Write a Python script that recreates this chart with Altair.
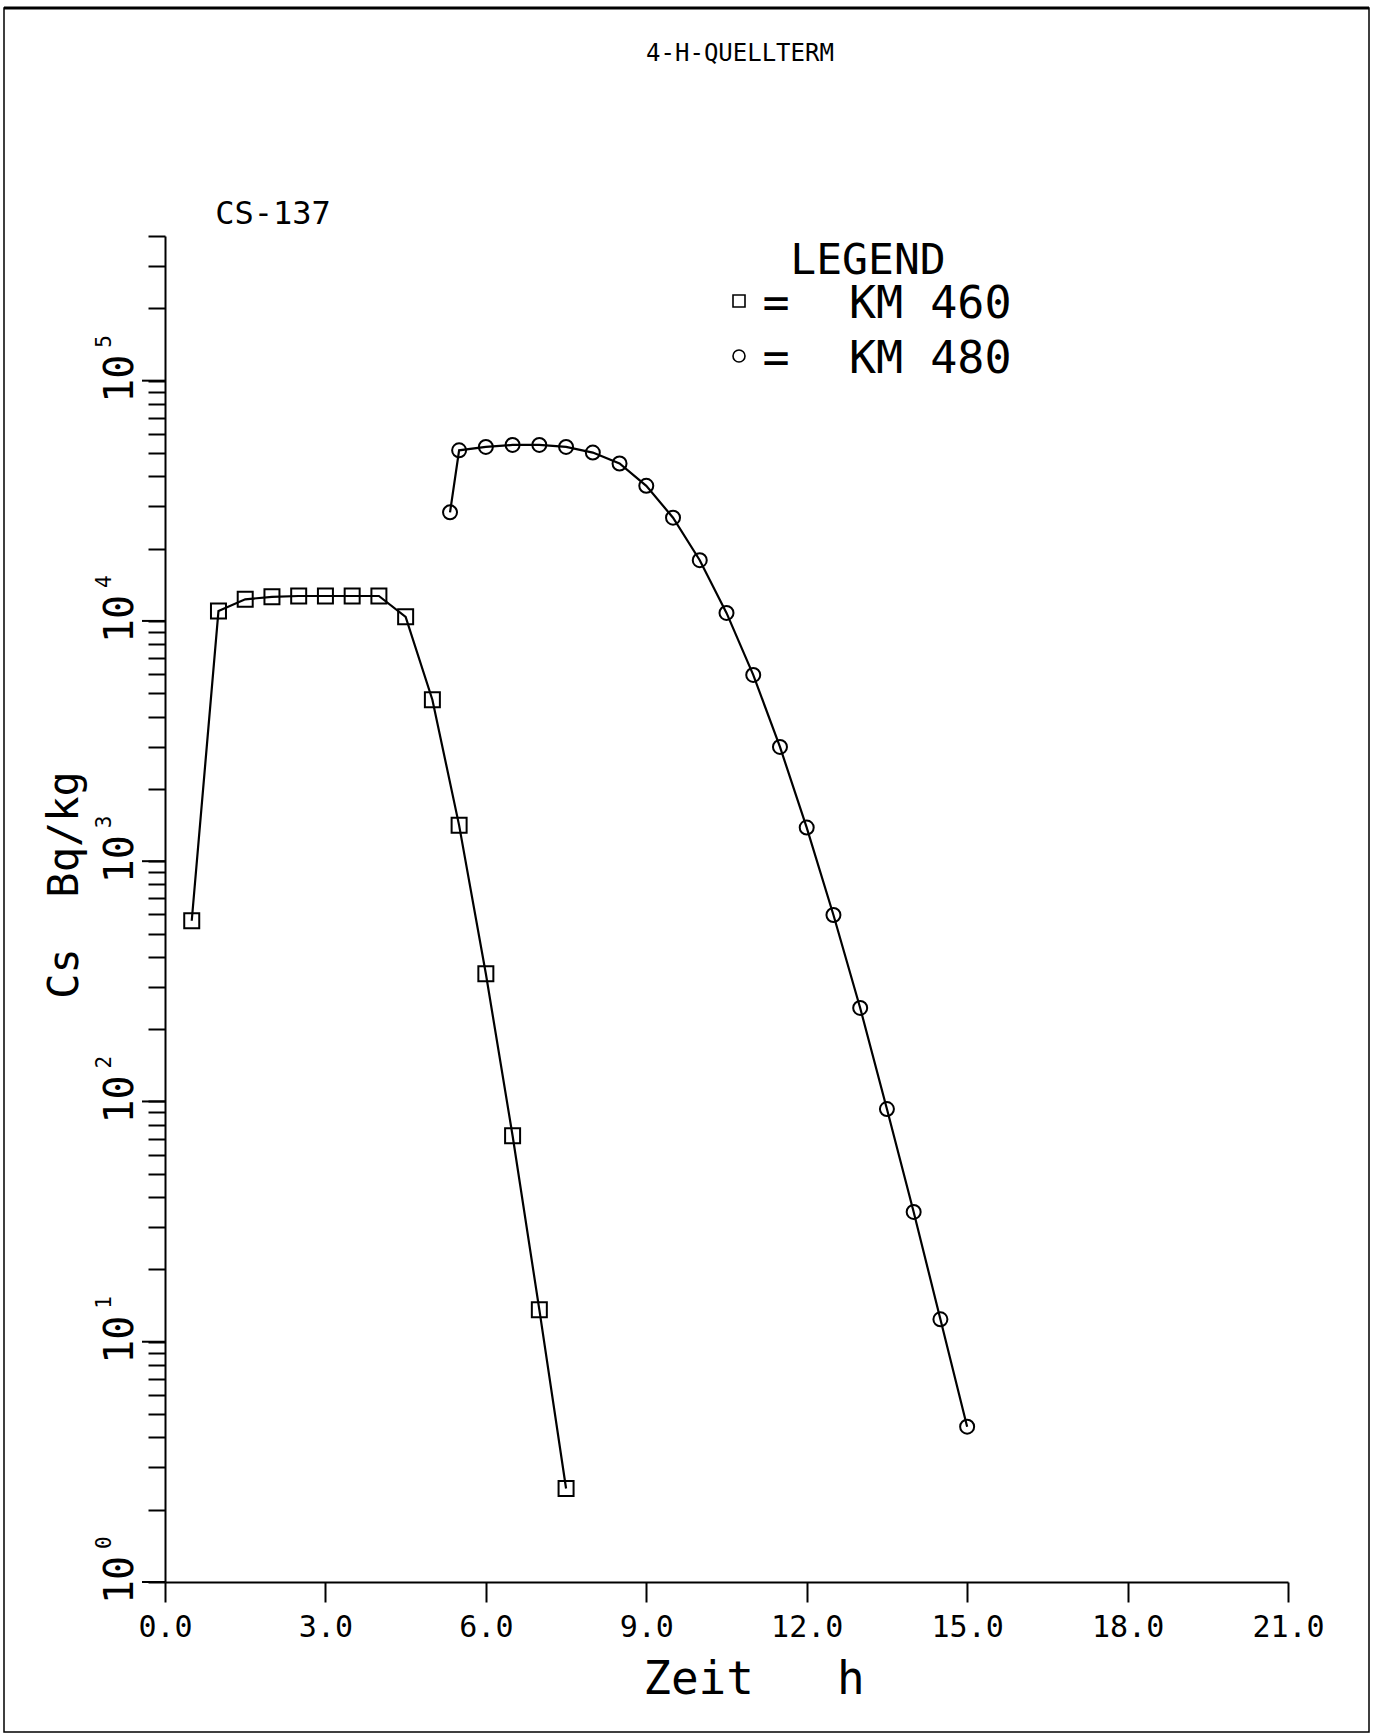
import altair as alt
import pandas as pd

# Cs-137 concentration (Bq/kg) over time (h) at two river stations
t_km460 = [0.5, 1.0, 1.5, 2.0, 2.5, 3.0, 3.5, 4.0, 4.5, 5.0, 5.5, 6.0, 6.5, 7.0, 7.5]
c_km460 = [565, 11000, 12300, 12600, 12700, 12700, 12700, 12700, 10400, 4700, 1410, 340, 72, 13.6, 2.45]

t_km480 = [5.33, 5.5, 6.0, 6.5, 7.0, 7.5, 8.0, 8.5, 9.0, 9.5, 10.0, 10.5, 11.0,
           11.5, 12.0, 12.5, 13.0, 13.5, 14.0, 14.5, 15.0]
c_km480 = [28300, 51300, 53000, 54000, 54000, 53000, 50200, 45200, 36500, 26900, 17900,
           10800, 5960, 2990, 1380, 597, 245, 93, 34.7, 12.4, 4.43]

x_ticks = [0, 3, 6, 9, 12, 15, 18, 21]
decade_exponents = [0, 1, 2, 3, 4, 5]
minor_ticks = [m * 10 ** e for e in range(0, 5) for m in range(2, 10)] + [2e5, 3e5, 4e5]

FONT = "DejaVu Sans Mono"
W, H = 1123, 1346
INK = "black"
NB = "\u00a0"  # keeps runs of spaces in SVG text

km460 = pd.DataFrame({"t": t_km460, "c": c_km460})
km480 = pd.DataFrame({"t": t_km480, "c": c_km480})
majors = pd.DataFrame({"v": [10.0 ** e for e in decade_exponents],
                       "exp": [str(e) for e in decade_exponents]})
one = pd.DataFrame({"k": [0]})

x_scale = alt.Scale(domain=[0, 21], nice=False, zero=False)
y_scale = alt.Scale(type="log", domain=[1, 4e5], nice=False)

x_axis = alt.Axis(values=x_ticks, format=".1f", tickSize=20, tickWidth=2, tickColor=INK,
                  domainColor=INK, domainWidth=2, labelFont=FONT, labelFontSize=30,
                  labelColor=INK, labelPadding=10, labelFlush=False, title=None, grid=False)
y_axis = alt.Axis(values=[10.0 ** e for e in decade_exponents] + minor_ticks, labels=False,
                  tickSize=17, tickWidth=2, tickColor=INK, domainColor=INK, domainWidth=2,
                  title=None, grid=False)


def X(field):
    return alt.X(field, type="quantitative", scale=x_scale, axis=x_axis)


def Y(field):
    return alt.Y(field, type="quantitative", scale=y_scale, axis=y_axis)


def label(text, x, y, size, align="center", angle=0, baseline="alphabetic"):
    return alt.Chart(one).mark_text(
        text=text, font=FONT, fontSize=size, color=INK, align=align,
        baseline=baseline, angle=angle
    ).encode(x=alt.value(x), y=alt.value(y))


line460 = alt.Chart(km460).mark_line(color=INK, strokeWidth=2.2).encode(x=X("t"), y=Y("c"))
pts460 = alt.Chart(km460).mark_point(shape="square", size=225, filled=False, color=INK,
                                     strokeWidth=2, opacity=1).encode(x=X("t"), y=Y("c"))
line480 = alt.Chart(km480).mark_line(color=INK, strokeWidth=2.2).encode(x=X("t"), y=Y("c"))
pts480 = alt.Chart(km480).mark_point(shape="circle", size=196, filled=False, color=INK,
                                     strokeWidth=2, opacity=1).encode(x=X("t"), y=Y("c"))

# longer ticks at each decade
major_ticks = alt.Chart(majors).mark_rule(color=INK, strokeWidth=2).encode(
    x=alt.value(-23), x2=alt.value(0), y=Y("v"))

# decade labels: rotated "10" with a raised exponent
dec_base = alt.Chart(majors).mark_text(
    text="10", font=FONT, fontSize=40, color=INK, align="center",
    baseline="alphabetic", angle=270, dx=2
).encode(x=alt.value(-32), y=Y("v"))
dec_exp = alt.Chart(majors).mark_text(
    font=FONT, fontSize=21, color=INK, align="left", baseline="alphabetic",
    angle=270, dx=33, dy=-22
).encode(x=alt.value(-32), y=Y("v"), text="exp:N")

# page frame
frame = alt.Chart(one).mark_rect(fillOpacity=0, stroke=INK, strokeWidth=1.5).encode(
    x=alt.value(-161), x2=alt.value(1204), y=alt.value(-228), y2=alt.value(1496))
frame_top = alt.Chart(one).mark_rule(color=INK, strokeWidth=3).encode(
    x=alt.value(-161), x2=alt.value(1204), y=alt.value(-228))

title = label("4-H-QUELLTERM", 575, -175, 24)
nuclide = label("CS-137", 108, -12, 32)
x_title = label(f"Zeit{NB * 3}h", 589, 1458, 46)
y_title = label(f"Cs{NB * 2}Bq/kg", -87, 649, 42, angle=270)

legend_head = label("LEGEND", 703, 38, 43)
leg_sq = alt.Chart(one).mark_point(shape="square", size=144, filled=False, color=INK,
                                   strokeWidth=1.6, opacity=1).encode(
    x=alt.value(574), y=alt.value(65))
leg_ci = alt.Chart(one).mark_point(shape="circle", size=144, filled=False, color=INK,
                                   strokeWidth=1.6, opacity=1).encode(
    x=alt.value(574), y=alt.value(120))
leg_eq1 = label("=", 611, 82, 45)
leg_eq2 = label("=", 611, 137, 45)
leg_t1 = label("KM 460", 684, 82, 45, align="left")
leg_t2 = label("KM 480", 684, 137, 45, align="left")

chart = alt.layer(
    frame, frame_top, line460, line480, pts460, pts480, major_ticks, dec_base, dec_exp,
    title, nuclide, x_title, y_title, legend_head, leg_sq, leg_ci, leg_eq1, leg_eq2,
    leg_t1, leg_t2
).properties(
    width=W, height=H,
    autosize=alt.AutoSizeParams(type="none"),
    padding={"left": 165, "top": 236, "right": 87, "bottom": 154},
    background="white",
).configure_view(stroke=None)

chart.save("out.html", embed_options={"renderer": "svg", "actions": False})
